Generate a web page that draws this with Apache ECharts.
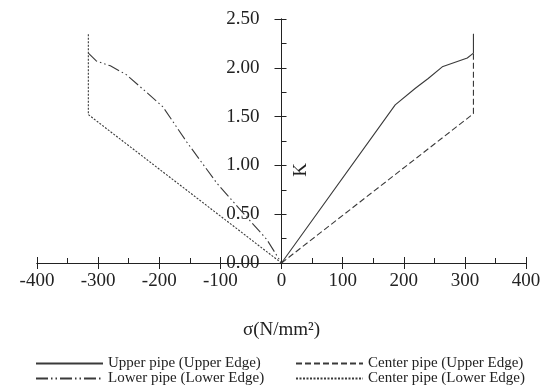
<!DOCTYPE html>
<html>
<head>
<meta charset="utf-8">
<script src="https://cdn.jsdelivr.net/npm/echarts@6/dist/echarts.min.js"></script>
<style>
  html, body { margin: 0; padding: 0; background: #fff; }
  #chart { width: 550px; height: 385px; }
</style>
</head>
<body>
<div id="chart"></div>
<script>
// σ (N/mm2) and K for each curve
const upperUpperX = [0, 186, 219, 240, 263, 304, 314, 314];
const upperUpperY = [0, 1.62, 1.79, 1.89, 2.01, 2.10, 2.15, 2.35];

const centerUpperX = [0, 314, 314];
const centerUpperY = [0, 1.53, 2.15];

const lowerLowerX = [-316, -303, -280, -254, -221, -194, -155, -106, -68, -24, 0];
const lowerLowerY = [2.15, 2.07, 2.02, 1.93, 1.75, 1.60, 1.24, 0.82, 0.55, 0.24, 0];

const centerLowerX = [0, -316, -316];
const centerLowerY = [0, 1.52, 2.35];

const seriesNames = [
  'Upper pipe (Upper Edge)',
  'Center pipe (Upper Edge)',
  'Lower pipe (Lower Edge)',
  'Center pipe (Lower Edge)'
];

const xTicks = { min: -400, max: 400, step: 100 };
const yTicks = { min: 0, max: 2.5, step: 0.5 };

const FONT = "'Liberation Serif', 'Times New Roman', serif";
const INK = '#222';
const LINE = '#3a3a3a';

// grid box, y axis sits on sigma = 0
const GRID = { left: 37, right: 24, top: 19, bottom: 122 };
const plotW = 550 - GRID.left - GRID.right;
const yAxisOffset = -plotW * (0 - xTicks.min) / (xTicks.max - xTicks.min);

function pairs(xs, ys) {
  return xs.map((x, i) => [x, ys[i]]);
}

function lineSeries(name, xs, ys, dash) {
  return {
    name,
    type: 'line',
    data: pairs(xs, ys),
    symbol: 'none',
    smooth: false,
    animation: false,
    lineStyle: { color: LINE, width: 1.1, type: dash },
    itemStyle: { color: LINE }
  };
}

const chart = echarts.init(document.getElementById('chart'), null, { renderer: 'canvas' });

const xBase = {
  type: 'value',
  min: xTicks.min,
  max: xTicks.max,
  interval: xTicks.step,
  position: 'bottom',
  splitLine: { show: false },
  axisLine: { onZero: false, lineStyle: { color: INK, width: 1 } }
};

const yBase = {
  type: 'value',
  min: yTicks.min,
  max: yTicks.max,
  interval: yTicks.step,
  position: 'left',
  offset: yAxisOffset,
  splitLine: { show: false },
  axisLine: { onZero: false, lineStyle: { color: INK, width: 1 } }
};

const legendBase = {
  orient: 'vertical',
  top: 356,
  height: 40,
  padding: 0,
  itemHeight: 8,
  itemGap: 0,
  selectedMode: false,
  itemStyle: { color: 'rgba(0,0,0,0)', borderColor: 'rgba(0,0,0,0)', borderWidth: 0 },
  textStyle: { fontFamily: FONT, fontSize: 15, color: INK, lineHeight: 15 }
};

chart.setOption({
  backgroundColor: '#fff',
  animation: false,
  grid: {
    ...GRID,
    containLabel: false,
    outerBoundsMode: 'none'
  },
  xAxis: [
    {
      ...xBase,
      name: 'σ(N/mm²)',
      nameLocation: 'middle',
      nameGap: 58,
      nameTextStyle: { fontFamily: FONT, fontSize: 19, color: INK },
      axisTick: { show: true, inside: false, length: 6, lineStyle: { color: INK } },
      axisLabel: { fontFamily: FONT, fontSize: 19, color: INK, margin: 9 }
    },
    {
      ...xBase,
      axisTick: { show: true, inside: true, length: 6, lineStyle: { color: INK } },
      minorTick: { show: true, splitNumber: 2, length: 5, lineStyle: { color: INK } },
      axisLabel: { show: false }
    }
  ],
  yAxis: [
    {
      ...yBase,
      axisTick: { show: true, inside: false, length: 7, lineStyle: { color: INK } },
      axisLabel: {
        fontFamily: FONT, fontSize: 19, color: INK, margin: 22,
        formatter: v => v.toFixed(2)
      }
    },
    {
      ...yBase,
      axisTick: { show: true, inside: true, length: 5, lineStyle: { color: INK } },
      minorTick: { show: true, splitNumber: 2, length: 5, lineStyle: { color: INK } },
      axisLabel: { show: false }
    }
  ],
  legend: [
    { ...legendBase, data: [seriesNames[0], seriesNames[2]], left: 35, itemWidth: 67 },
    { ...legendBase, data: [seriesNames[1], seriesNames[3]], left: 295, itemWidth: 67 }
  ],
  graphic: [
    {
      type: 'text',
      x: 301,
      y: 170,
      rotation: Math.PI / 2,
      style: {
        text: 'K',
        font: '19px ' + FONT,
        fill: INK,
        align: 'center',
        verticalAlign: 'middle'
      }
    }
  ],
  series: [
    lineSeries(seriesNames[0], upperUpperX, upperUpperY, 'solid'),
    lineSeries(seriesNames[1], centerUpperX, centerUpperY, [6, 3]),
    lineSeries(seriesNames[2], lowerLowerX, lowerLowerY, [12, 3, 1.5, 3, 1.5, 3]),
    lineSeries(seriesNames[3], centerLowerX, centerLowerY, [2, 1.5])
  ]
});

window.addEventListener('resize', () => chart.resize());
</script>
</body>
</html>
